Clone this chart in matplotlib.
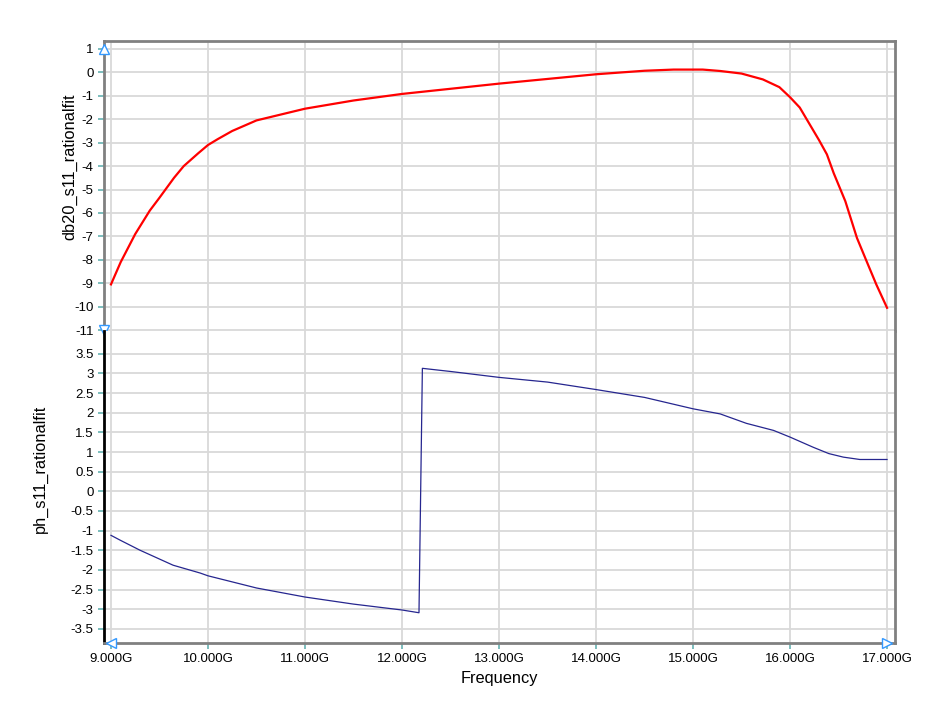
import matplotlib
matplotlib.use("Agg")
import matplotlib.pyplot as plt
import numpy as np

plt.rcParams['font.family'] = ['Liberation Sans', 'DejaVu Sans']

# Magnitude (dB) of S11 rational fit
freq_db = [9.0, 9.1, 9.25, 9.4, 9.5, 9.65, 9.75, 9.9, 10.0, 10.1, 10.25, 10.5, 10.75,
           11.0, 11.5, 12.0, 12.5, 13.0, 13.5, 14.0, 14.5, 14.8, 15.1, 15.28, 15.5,
           15.72, 15.89, 16.0, 16.1, 16.2, 16.3, 16.38, 16.45, 16.57, 16.69, 16.79,
           16.89, 17.0]
db_vals = [-9.05, -8.1, -6.9, -5.9, -5.35, -4.5, -4.0, -3.45, -3.1, -2.85, -2.5,
           -2.05, -1.8, -1.55, -1.2, -0.92, -0.7, -0.48, -0.28, -0.08, 0.07, 0.12,
           0.12, 0.06, -0.05, -0.3, -0.63, -1.06, -1.5, -2.2, -2.9, -3.5, -4.3,
           -5.5, -7.07, -8.07, -9.06, -10.05]

# Phase of S11 rational fit
freq_ph = [9.0, 9.1, 9.3, 9.64, 9.92, 10.0, 10.5, 11.0, 11.5, 12.0, 12.175, 12.21,
           12.5, 13.0, 13.5, 14.0, 14.5, 15.0, 15.28, 15.55, 15.83, 16.0, 16.24,
           16.4, 16.55, 16.72, 17.0]
ph_vals = [-1.12, -1.25, -1.5, -1.88, -2.08, -2.15, -2.46, -2.69, -2.87, -3.02,
           -3.09, 3.13, 3.05, 2.9, 2.78, 2.59, 2.39, 2.1, 1.97, 1.73, 1.55, 1.38,
           1.12, 0.96, 0.87, 0.81, 0.81]

x_ticks = [9, 10, 11, 12, 13, 14, 15, 16, 17]
x_labels = ["9.000G", "10.000G", "11.000G", "12.000G", "13.000G", "14.000G",
            "15.000G", "16.000G", "17.000G"]
db_ticks = [1, 0, -1, -2, -3, -4, -5, -6, -7, -8, -9, -10, -11]
ph_ticks = [3.5, 3, 2.5, 2, 1.5, 1, 0.5, 0, -0.5, -1, -1.5, -2, -2.5, -3, -3.5]

fig = plt.figure(figsize=(9.5, 7.2), dpi=100)
W, H = 950, 720
left, right = 104, 895
ax1 = fig.add_axes([left / W, 1 - 331 / H, (right - left) / W, (331 - 41) / H])
ax2 = fig.add_axes([left / W, 1 - 643 / H, (right - left) / W, (643 - 331) / H], sharex=ax1)

grid_c = '#d9d9d9'
tick_c = '#66b2b2'
spine_c = '#808080'

for ax in (ax1, ax2):
    ax.set_xlim(8.928, 17.082)
    ax.set_xticks(x_ticks)
    ax.grid(True, color=grid_c, linewidth=1.3)
    ax.set_axisbelow(True)
    for s in ax.spines.values():
        s.set_color(spine_c)
        s.set_linewidth(2)
    ax.tick_params(axis='both', colors=tick_c, length=4, width=1.2,
                   labelcolor='black', labelsize=9.5)

ax1.plot(freq_db, db_vals, color='#ff0000', linewidth=1.6)
ax1.set_ylim(-11.04, 1.34)
ax1.set_yticks(db_ticks)
ax1.set_yticklabels([str(t) for t in db_ticks])
ax1.tick_params(axis='x', bottom=False, labelbottom=False)
ax1.set_ylabel("db20_s11_rationalfit", fontsize=11.8)
ax1.yaxis.set_label_coords(-0.034, 0.566)
ax1.spines['bottom'].set_visible(False)

ax2.plot(freq_ph, ph_vals, color='#26268f', linewidth=0.9)
ax2.set_ylim(-3.86, 4.08)
ax2.set_yticks(ph_ticks)
ax2.set_yticklabels([("%g" % t) for t in ph_ticks])
ax2.set_xticklabels(x_labels)
ax2.spines['top'].set_visible(False)
ax2.spines['left'].set_color('black')
ax2.set_ylabel("ph_s11_rationalfit", fontsize=11.8)
ax2.yaxis.set_label_coords(-0.071, 0.558)
ax2.set_xlabel("Frequency", fontsize=11.8, labelpad=4)

# axis-range handles
hc = '#3399ff'
ax1.plot([8.928], [1.0], marker='^', ms=7, mfc='white', mec=hc, clip_on=False, zorder=5)
ax1.plot([8.928], [-11.0], marker='v', ms=7, mfc='white', mec=hc, clip_on=False, zorder=5)
ax2.plot([9.0], [-3.86], marker='<', ms=7, mfc='white', mec=hc, clip_on=False, zorder=5)
ax2.plot([17.0], [-3.86], marker='>', ms=7, mfc='white', mec=hc, clip_on=False, zorder=5)

fig.savefig("out.png", dpi=100)
